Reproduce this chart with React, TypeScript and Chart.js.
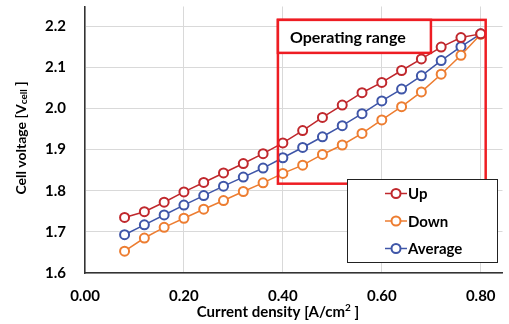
import React, { useEffect, useRef } from "react";
import { Chart, registerables } from "chart.js";

Chart.register(...registerables);

const currentDensity = [0.08, 0.12, 0.16, 0.2, 0.24, 0.28, 0.32, 0.36, 0.4, 0.44, 0.48, 0.52, 0.56, 0.6, 0.64, 0.68, 0.72, 0.76, 0.8];
const upVoltage = [1.735, 1.749, 1.772, 1.797, 1.82, 1.843, 1.866, 1.89, 1.916, 1.946, 1.978, 2.008, 2.038, 2.063, 2.092, 2.12, 2.149, 2.172, 2.181];
const downVoltage = [1.653, 1.685, 1.711, 1.733, 1.755, 1.776, 1.798, 1.819, 1.842, 1.862, 1.888, 1.911, 1.939, 1.972, 2.004, 2.04, 2.083, 2.129, 2.18];
const avgVoltage = [1.693, 1.717, 1.741, 1.765, 1.788, 1.811, 1.833, 1.855, 1.88, 1.905, 1.931, 1.958, 1.987, 2.018, 2.047, 2.079, 2.116, 2.15, 2.181];
const seriesNames = ["Up", "Down", "Average"];
const seriesColors = ["#C0282D", "#ED7D31", "#3F56A8"];
const xTicks = [0, 0.2, 0.4, 0.6, 0.8];
const yTicks = [1.6, 1.7, 1.8, 1.9, 2.0, 2.1, 2.2];
const rangeStart = 0.39;
const rangeEnd = 0.81;
const rangeLow = 1.817;
const rangeHigh = 2.215;
const rangeLabel = "Operating range";
const xTitleMain = "Current density [A/cm";
const xTitleSup = "2";
const xTitleEnd = " ]";
const yTitleMain = "Cell voltage [V";
const yTitleSub = "cell";
const yTitleEnd = " ]";

const FONT = "Lato, 'Noto Sans', sans-serif";

function drawRich(ctx: any, parts: [string, string, number][], cx: number, cy: number) {
  const widths = parts.map(([txt, font]) => {
    ctx.font = font;
    return ctx.measureText(txt).width;
  });
  const total = widths.reduce((a, b) => a + b, 0);
  let x = cx - total / 2;
  parts.forEach(([txt, font, dy], i) => {
    ctx.font = font;
    ctx.fillText(txt, x, cy + dy);
    x += widths[i];
  });
}

const overlayPlugin = {
  id: "overlay",
  afterDraw(chart: any) {
    const ctx = chart.ctx;
    const xs = chart.scales.x;
    const ys = chart.scales.y;
    ctx.save();
    // operating range box
    const l = xs.getPixelForValue(rangeStart);
    const r = xs.getPixelForValue(rangeEnd);
    const t = ys.getPixelForValue(rangeHigh);
    const b = ys.getPixelForValue(rangeLow);
    ctx.strokeStyle = "#EE1D23";
    ctx.lineWidth = 2.5;
    ctx.strokeRect(l, t, r - l, b - t);
    // label box
    const bw = 153;
    const bh = 33;
    ctx.fillStyle = "#ffffff";
    ctx.fillRect(l, t, bw, bh);
    ctx.strokeRect(l, t, bw, bh);
    ctx.fillStyle = "#000000";
    ctx.font = `bold 16px ${FONT}`;
    ctx.textBaseline = "middle";
    ctx.textAlign = "left";
    ctx.fillText(rangeLabel, l + 12, t + bh / 2 + 1);

    // legend box
    const lx = 347, ly = 179, lw = 150, lh = 83;
    ctx.fillStyle = "#ffffff";
    ctx.fillRect(lx, ly, lw, lh);
    ctx.strokeStyle = "#222222";
    ctx.lineWidth = 1;
    ctx.strokeRect(lx + 0.5, ly + 0.5, lw, lh);
    const ds = chart.data.datasets;
    ds.forEach((d: any, i: number) => {
      const cy = 193.5 + i * 27.5;
      ctx.strokeStyle = d.borderColor;
      ctx.lineWidth = 1.5;
      ctx.beginPath();
      ctx.moveTo(385, cy);
      ctx.lineTo(407, cy);
      ctx.stroke();
      ctx.beginPath();
      ctx.arc(396, cy, 4.5, 0, Math.PI * 2);
      ctx.fillStyle = "#ffffff";
      ctx.fill();
      ctx.lineWidth = 2;
      ctx.stroke();
      ctx.fillStyle = "#000000";
      ctx.font = `bold 15px ${FONT}`;
      ctx.textAlign = "left";
      ctx.textBaseline = "middle";
      ctx.fillText(d.label, 408, cy + 1);
    });

    ctx.fillStyle = "#000000";
    ctx.textBaseline = "middle";
    ctx.textAlign = "left";
    // x title with superscript
    drawRich(ctx, [
      [xTitleMain, `bold 15px ${FONT}`, 0],
      [xTitleSup, `bold 10px ${FONT}`, -4],
      [xTitleEnd, `bold 15px ${FONT}`, 0],
    ], 278, 312);

    // y title with subscript
    ctx.translate(21, 138);
    ctx.rotate(-Math.PI / 2);
    drawRich(ctx, [
      [yTitleMain, `bold 14px ${FONT}`, 0],
      [yTitleSub, `bold 10px ${FONT}`, 3],
      [yTitleEnd, `bold 14px ${FONT}`, 0],
    ], 0, 0);
    ctx.restore();
  },
};

export default function App() {
  const ref = useRef<HTMLCanvasElement | null>(null);
  useEffect(() => {
    document.body.style.margin = "0";
    const mk = (label: string, vals: number[], color: string) => ({
      label,
      data: currentDensity.map((x, i) => ({ x, y: vals[i] })),
      borderColor: color,
      backgroundColor: "#ffffff",
      borderWidth: 1.5,
      pointRadius: 4.5,
      pointBorderWidth: 2,
      pointBackgroundColor: "#ffffff",
      pointBorderColor: color,
      tension: 0,
    });
    const chart = new Chart(ref.current as HTMLCanvasElement, {
      type: "line",
      data: {
        datasets: [
          mk(seriesNames[0], upVoltage, seriesColors[0]),
          mk(seriesNames[1], downVoltage, seriesColors[1]),
          mk(seriesNames[2], avgVoltage, seriesColors[2]),
        ],
      },
      plugins: [overlayPlugin],
      options: {
        animation: false,
        responsive: false,
        maintainAspectRatio: false,
        layout: { padding: { top: 4, right: 2, left: 0, bottom: 0 } },
        plugins: { legend: { display: false }, tooltip: { enabled: false } },
        scales: {
          x: {
            type: "linear",
            min: 0,
            max: 0.844,
            afterFit: (s: any) => {
              s.height = 51;
              s.paddingLeft = 0;
              s.paddingRight = 0;
              s.paddingTop = 0;
              s.paddingBottom = 0;
            },
            afterBuildTicks: (s: any) => {
              s.ticks = xTicks.map((v) => ({ value: v }));
            },
            grid: { color: "#D9D9D9", drawTicks: false, lineWidth: 1 },
            border: { color: "#333333", width: 1.5 },
            ticks: {
              padding: 14,
              color: "#000000",
              font: { family: FONT, size: 15, weight: "bold" },
              callback: (v: any) => Number(v).toFixed(2),
            },
          },
          y: {
            type: "linear",
            min: 1.6,
            max: 2.2475,
            afterFit: (s: any) => {
              s.width = 85;
              s.paddingLeft = 0;
              s.paddingRight = 0;
              s.paddingTop = 0;
              s.paddingBottom = 0;
            },
            afterBuildTicks: (s: any) => {
              s.ticks = yTicks.map((v) => ({ value: v }));
            },
            grid: { color: "#D9D9D9", drawTicks: false, lineWidth: 1 },
            border: { color: "#333333", width: 1.5 },
            ticks: {
              padding: 19,
              color: "#000000",
              font: { family: FONT, size: 15, weight: "bold" },
              callback: (v: any) => Number(v).toFixed(1),
            },
          },
        },
      },
    } as any);
    return () => chart.destroy();
  }, []);
  return (
    <div style={{ position: "relative", width: 509, height: 324 }}>
      <canvas ref={ref} width={509} height={324} style={{ display: "block" }} />
    </div>
  );
}
